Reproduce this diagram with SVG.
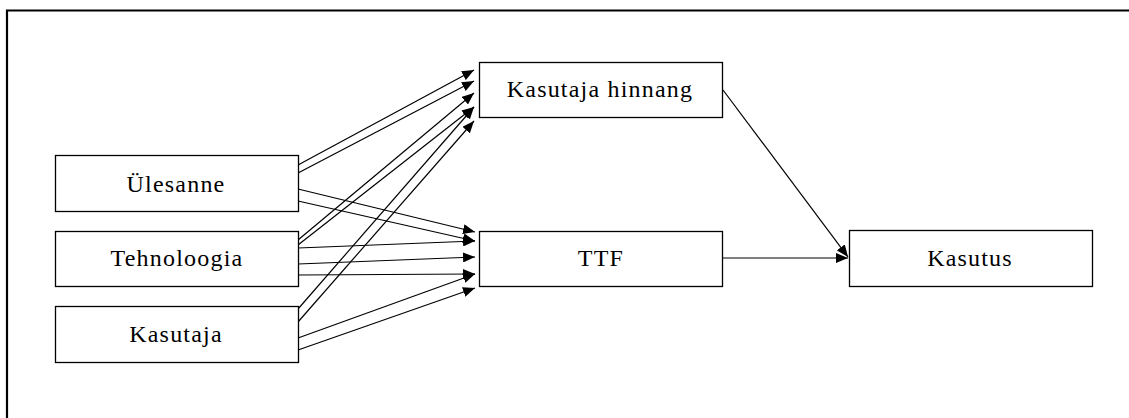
<svg xmlns="http://www.w3.org/2000/svg" width="1129" height="418" viewBox="0 0 1129 418">
<defs>
<marker id="ah" viewBox="0 0 12 10" refX="12" refY="5" markerWidth="12" markerHeight="10" markerUnits="userSpaceOnUse" orient="auto">
<path d="M0,0 L12,5 L0,10 z" fill="#000"/>
</marker>
<style>
.box{fill:#fff;stroke:#000;stroke-width:1.3}
.lbl{font-family:"Liberation Serif","Times New Roman",serif;font-size:24px;letter-spacing:1.2px;text-anchor:middle;fill:#000}
.cn{fill:none;stroke:#000;stroke-width:1.2;marker-end:url(#ah)}
</style>
</defs>
<rect width="1129" height="418" fill="#fff"/>
<path d="M7,420 V10.5 H1131" fill="none" stroke="#000" stroke-width="2.2"/>
<g id="connectors">
<line class="cn" x1="298" y1="165" x2="474" y2="70"/>
<line class="cn" x1="298" y1="173" x2="474" y2="81"/>
<line class="cn" x1="298" y1="240" x2="474" y2="93"/>
<line class="cn" x1="298" y1="245" x2="474" y2="107"/>
<line class="cn" x1="298" y1="309" x2="474" y2="107"/>
<line class="cn" x1="298" y1="322" x2="474" y2="121"/>
<line class="cn" x1="298" y1="189" x2="475" y2="232"/>
<line class="cn" x1="298" y1="201" x2="475" y2="241"/>
<line class="cn" x1="298" y1="248" x2="475" y2="241"/>
<line class="cn" x1="298" y1="264" x2="475" y2="257"/>
<line class="cn" x1="298" y1="275" x2="475" y2="274"/>
<line class="cn" x1="298" y1="338" x2="475" y2="274"/>
<line class="cn" x1="298" y1="350" x2="475" y2="288"/>
<line class="cn" x1="723" y1="90" x2="848" y2="257"/>
<line class="cn" x1="722" y1="258" x2="848" y2="258"/>
</g>
<g id="n-ulesanne"><rect class="box" x="55.5" y="155.5" width="243" height="56"/><text class="lbl" x="176" y="192">Ülesanne</text></g>
<g id="n-tehnoloogia"><rect class="box" x="55.5" y="231.5" width="243" height="55"/><text class="lbl" x="177" y="266">Tehnoloogia</text></g>
<g id="n-kasutaja"><rect class="box" x="55.5" y="306.5" width="243" height="56"/><text class="lbl" x="176" y="342">Kasutaja</text></g>
<g id="n-hinnang"><rect class="box" x="479.5" y="62.5" width="243" height="55"/><text class="lbl" x="600" y="97">Kasutaja hinnang</text></g>
<g id="n-ttf"><rect class="box" x="479.5" y="231.5" width="243" height="55"/><text class="lbl" x="601" y="266">TTF</text></g>
<g id="n-kasutus"><rect class="box" x="849.5" y="230.5" width="243" height="56"/><text class="lbl" x="970" y="266">Kasutus</text></g>
</svg>
